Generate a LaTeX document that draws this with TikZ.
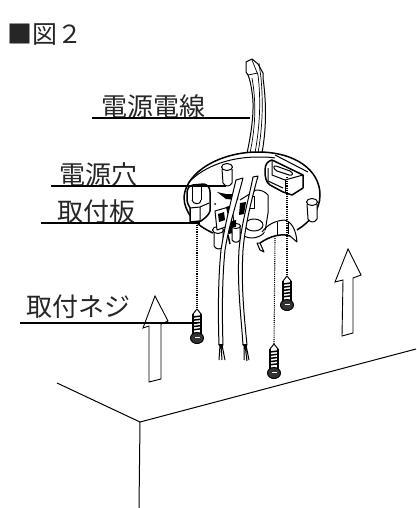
\documentclass[tikz,border=0pt]{standalone}
\usepackage{fontspec}
\newfontfamily\jpfont{Noto Sans CJK JP}
\usetikzlibrary{positioning}
\newcommand{\wallscrew}[3]{% x, tip y, name
  \coordinate (#3) at (#1,#2);
  \fill[white] (#1-4,#2+3) rectangle (#1+4,#2+24);
  \draw[line] (#1,#2) -- (#1-4,#2+5) -- (#1-4,#2+25) (#1,#2) -- (#1+4,#2+5) -- (#1+4,#2+25);
  \draw[line, line width=1.4pt] (#1-4,#2+5) -- (#1-4,#2+25) (#1+4,#2+5) -- (#1+4,#2+25);
  \foreach \k in {8,11.2,...,23} {\draw[line, line width=1.5pt] (#1-4,#2+\k) -- (#1+4,#2+\k-1);}
  \draw[line, fill=black!80] (#1,#2+29) ellipse (6.5 and 5.5);
  \fill[white] (#1-2.5,#2+27.5) rectangle (#1+2.5,#2+28.8);
}
\begin{document}
\begin{tikzpicture}[
        x=1pt, y=-1pt,
        font=\jpfont,
        tag/.style={font=\jpfont\fontsize{26}{26}\selectfont, inner sep=0pt, text=black!85},
        leader/.style={line width=2.8pt},
        line/.style={line width=1pt, line join=round},
        thin line/.style={line width=0.7pt, line join=round},
        thick line/.style={line width=1.5pt, line join=round},
        dots/.style={line width=1.1pt, densely dotted},
        hollow/.style={line width=0.9pt, line join=miter, fill=white},
        cover/.style={line, fill=white}
    ]
        \useasboundingbox (0,0) rectangle (416,508);

        \node[tag, font=\jpfont\fontsize{25}{25}\selectfont] (title) at (45,35) {■図２};

        % room corner
        \coordinate (roomL) at (57,383);
        \coordinate (roomC) at (140,422);
        \coordinate (roomR) at (416,349);
        \coordinate (roomB) at (139,508);
        \draw[line] (roomL) -- (roomC) -- (roomR);
        \draw[line] (roomC) -- (roomB);

        % arrows
        \draw[hollow] (155,296) -- (168,321) -- (161,324) -- (161,379) -- (149,382) -- (149,326) -- (143,328) -- cycle;
        \draw[hollow] (348,249) -- (361,275) -- (353,278) -- (353,333) -- (342,336) -- (343,280) -- (335,282) -- cycle;

        % cable
        \draw[cover] (247,153) .. controls (251,135) and (255,110) .. (252,92) .. controls (251,85) and (250,80) .. (248,75)
            -- (246,72) -- (246,62) -- (252,59) -- (258,64) -- (263,73) -- (263,78)
            .. controls (266,100) and (267,125) .. (262,153);
        \draw[thin line] (252,60) -- (258,75) .. controls (261,100) and (260,125) .. (255,153);
        \draw[thin line] (252,78) .. controls (256,100) and (256,125) .. (250,153);
        \draw[thin line] (259,63) -- (261,78) .. controls (263,100) and (263,125) .. (258,153);
        \draw[thin line] (248,75) -- (258,73);

        % plate
        \draw[cover, thick line] (213,233) .. controls (195,225) and (184,212) .. (184,197)
            .. controls (186,172) and (220,152) .. (258,152)
            .. controls (295,152) and (320,170) .. (320,195)
            .. controls (320,210) and (310,222) .. (297,230);
        \draw[line] (188,183) .. controls (205,165) and (232,157) .. (258,157) .. controls (265,157) and (270,157) .. (275,158);
        \draw[line] (275,155) -- (308,172);

        % top bracket
        \draw[cover, thick line] (265,170) .. controls (265,164) and (268,161) .. (272,160) -- (303,175) -- (303,188)
            -- (292,195) -- (283,192) -- (270,185) .. controls (266,182) and (265,178) .. (265,170);
        \draw[line] (272,161) -- (272,175) -- (285,180) -- (303,175);
        \draw[line] (285,180) -- (285,193);
        \draw[line] (268,168) -- (268,181) -- (283,188);
        \draw[line] (276,166) -- (290,171) .. controls (294,173) and (293,176) .. (289,175) -- (277,171) .. controls (273,169) and (273,165) .. (276,166);

        % left bracket
        \draw[cover, thick line] (187,198) -- (187,192) .. controls (188,187) and (190,185) .. (193,185) -- (204,184)
            .. controls (208,185) and (210,188) .. (210,192) -- (210,211) .. controls (209,215) and (205,218) .. (201,221) -- (190,222) -- (190,208) .. controls (188,205) and (187,202) .. (187,198);
        \draw[line] (192,187) -- (192,200) (201,186) -- (201,200);
        \draw[line] (192,200) .. controls (193,205) and (201,205) .. (201,200);
        \draw[line] (190,208) -- (200,207) -- (200,222);
        \draw[line] (200,207) -- (209,203);

        % standoffs
        \draw[cover] (222,169) -- (223,183) .. controls (225,187) and (230,187) .. (232,183) -- (232,169);
        \draw[cover] (227,167) ellipse (5.5 and 3.5);
        \draw[cover] (307,204) -- (308,219) .. controls (310,223) and (315,223) .. (317,219) -- (317,204);
        \draw[cover] (312,202) ellipse (5.5 and 3.5);
        \draw[cover] (214,231) -- (214,246) .. controls (216,250) and (222,250) .. (223,246) -- (223,231);
        \draw[cover] (218,230) ellipse (5.5 and 3.5);

        % hole
        \draw[cover] (240,232) .. controls (245,240) and (258,240) .. (265,232) -- (268,213) .. controls (268,203) and (268,198) .. (268,195) .. controls (265,191) and (260,190) .. (256,190) -- (240,200);
        \draw[line, fill=white] (254,225) ellipse (9 and 6);
        \draw[cover] (248,196) rectangle (254,208);

        % clip
        \fill[white] (265,231) .. controls (270,224) and (276,221) .. (284,220) .. controls (291,221) and (296,229) .. (297,242) -- (290,236) .. controls (282,233) and (272,236) .. (262,242) -- cycle;
        \draw[line] (262,232) .. controls (268,224) and (275,221) .. (284,220) .. controls (291,221) and (296,229) .. (297,242) -- (290,236);
        \draw[thick line] (290,236) .. controls (282,233) and (270,236) .. (260,243);
        \draw[line] (260,243) -- (264,252) -- (260,250) -- (257,243) -- (260,243);
        \draw[line] (277,222) -- (277,235) (288,222) -- (288,234);

        % centre parts
        \draw[line, fill=white] (215,211) -- (232,206) -- (234,224) -- (217,230) -- cycle;
        \fill (217,192) -- (226,194) -- (238,194) -- (238,200) -- (226,199) -- cycle;
        \fill (218,214) -- (224,212) -- (225,220) -- (219,222) -- cycle;
        \fill (226,207) -- (233,205) -- (233,214) -- (228,216) -- cycle;
        \fill (228,222) -- (236,220) -- (236,232) -- (229,234) -- cycle;
        \fill (240,203) -- (246,202) -- (244,214) -- (239,215) -- cycle;
        \fill (215,204) circle (1);
        \draw[cover] (232,227) -- (232,240) .. controls (234,243) and (238,243) .. (240,240) -- (240,227);
        \draw[line] (236,226) ellipse (4.5 and 2.5);
        \draw[thick line] (228,235) -- (230,244);

        % wires
        \draw[cover] (236,180) .. controls (230,205) and (225,225) .. (221,250) .. controls (218,280) and (218,315) .. (219,345) -- (223,345)
            .. controls (222,315) and (222,280) .. (225,250) .. controls (229,225) and (236,205) .. (243,178) -- cycle;
        \draw[cover] (253,177) .. controls (249,198) and (241,225) .. (239,250) .. controls (237,285) and (241,315) .. (243,345) -- (247,345)
            .. controls (244,315) and (241,285) .. (243,250) .. controls (245,225) and (252,198) .. (258,176) -- cycle;
        \draw[line] (220,345) -- (219,360) (221,345) -- (222,360) (222,345) -- (225,360);
        \draw[line] (244,345) -- (244,360) (245,345) -- (247,361) (246,345) -- (249,360);
        \draw[thick line] (219,345) -- (223,345) (243,345) -- (247,345);

        % guide lines
        \coordinate (guideA) at (197,223);
        \coordinate (guideB) at (275,238);
        \coordinate (guideC) at (287,177);
        \wallscrew{197}{309}{screwA}
        \wallscrew{287}{276}{screwB}
        \wallscrew{274}{344}{screwC}
        \draw[dots] (guideA) -- (screwA);
        \draw[dots] (guideB) -- (screwC);
        \draw[dots] (guideC) -- (screwB);

        % labels
        \node[tag] (wirelabel) at (153,107) {電源電線};
        \node[tag] (holelabel) at (98,175) {電源穴};
        \node[tag] (platelabel) at (96,212) {取付板};
        \node[tag] (screwlabel) at (78,307) {取付ネジ};
        \coordinate (wireEnd) at (250,118);
        \coordinate (holeEnd) at (226,186);
        \coordinate (plateEnd) at (200,223);
        \coordinate (screwEnd) at (197,323);
        \draw[leader] (92,118) -- (wireEnd);
        \draw[leader] (51,186) -- (holeEnd);
        \draw[leader] (41,223) -- (plateEnd);
        \draw[leader] (20,323) -- (screwEnd);
\end{tikzpicture}
\end{document}
